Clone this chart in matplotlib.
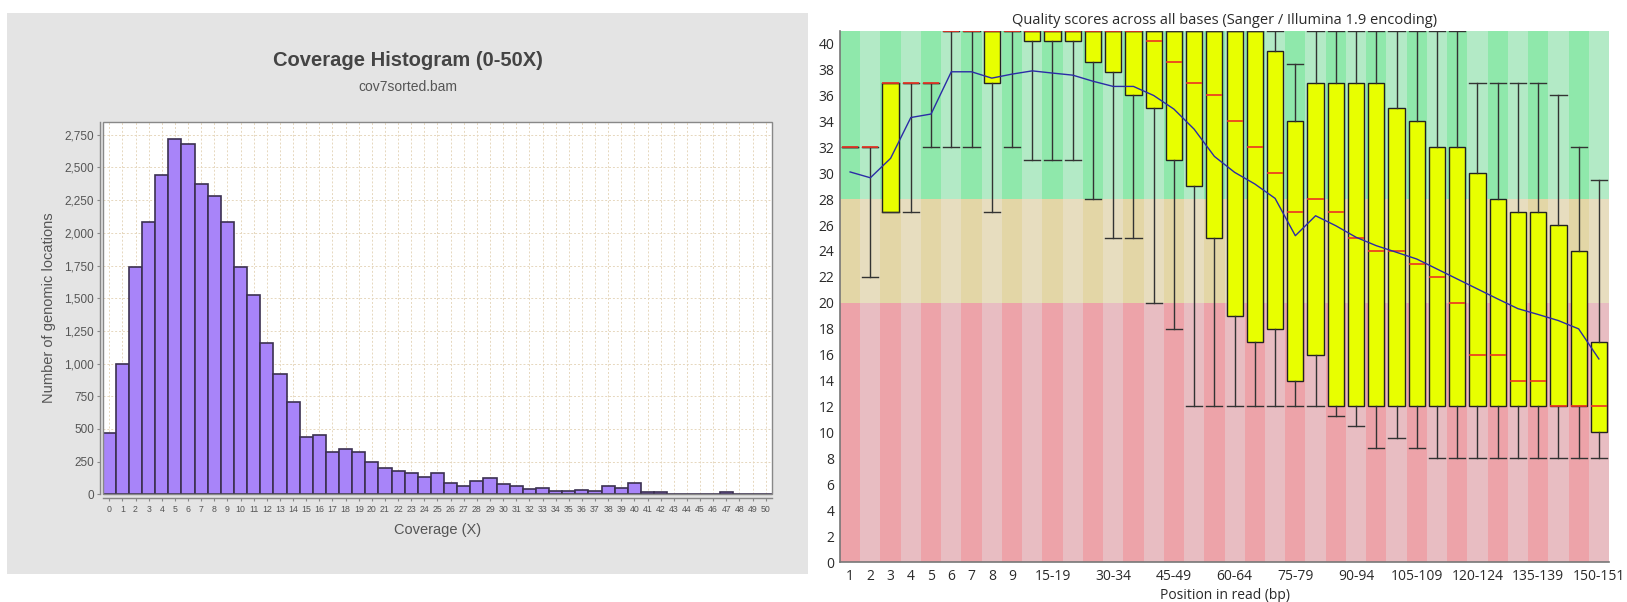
import matplotlib.pyplot as plt
from matplotlib import font_manager
from matplotlib.patches import Rectangle

# --- coverage histogram (0-50X) ---
coverage = list(range(51))
locations = [470, 1000, 1735, 2085, 2445, 2715, 2680, 2375, 2280, 2085,
             1735, 1525, 1155, 920, 705, 440, 450, 320, 345, 320,
             245, 200, 175, 165, 130, 165, 85, 65, 100, 125,
             75, 65, 40, 50, 25, 25, 35, 25, 65, 45,
             85, 15, 15, 5, 5, 5, 5, 15, 0, 0, 0]
cov_yticks = list(range(0, 2751, 250))

# --- per base sequence quality ---
positions = ['1', '2', '3', '4', '5', '6', '7', '8', '9',
             '10-14', '15-19', '20-24', '25-29', '30-34', '35-39', '40-44',
             '45-49', '50-54', '55-59', '60-64', '65-69', '70-74', '75-79',
             '80-84', '85-89', '90-94', '95-99', '100-104', '105-109',
             '110-114', '115-119', '120-124', '125-129', '130-134',
             '135-139', '140-144', '145-149', '150-151']
p10 = [32, 22, 27, 27, 32, 32, 32, 27, 32, 31, 31, 31, 28, 25, 25, 20, 18, 12, 12,
       12, 12, 12, 12, 12, 11.3, 10.5, 8.8, 9.6, 8.8, 8, 8, 8, 8, 8, 8, 8, 8, 8]
q1 = [32, 32, 27, 37, 37, 41, 41, 37, 41, 40.2, 40.2, 40.2, 38.6, 37.8, 36, 35, 31, 29, 25,
      19, 17, 18, 14, 16, 12, 12, 12, 12, 12, 12, 12, 12, 12, 12, 12, 12, 12, 10]
median = [32, 32, 37, 37, 37, 41, 41, 41, 41, 41, 41, 41, 41, 41, 41, 40.2, 38.6, 37, 36,
          34, 32, 30, 27, 28, 27, 25, 24, 24, 23, 22, 20, 16, 16, 14, 14, 12, 12, 12]
q3 = [32, 32, 37, 37, 37, 41, 41, 41, 41, 41, 41, 41, 41, 41, 41, 41, 41, 41, 41,
      41, 41, 39.4, 34, 37, 37, 37, 37, 35, 34, 32, 32, 30, 28, 27, 27, 26, 24, 17]
p90 = [32, 32, 37, 37, 37, 41, 41, 41, 41, 41, 41, 41, 41, 41, 41, 41, 41, 41, 41,
       41, 41, 41, 38.4, 41, 41, 41, 41, 41, 41, 41, 41, 37, 37, 37, 37, 36, 32, 29.5]
mean_q = [30.1, 29.65, 31.15, 34.3, 34.57, 37.83, 37.83, 37.34, 37.65, 37.9, 37.73,
          37.57, 37.1, 36.7, 36.7, 36.0, 34.95, 33.4, 31.3, 30.07, 29.17, 28.06,
          25.18, 26.72, 25.95, 25.06, 24.41, 23.9, 23.38, 22.61, 21.84, 21.07,
          20.3, 19.55, 19.1, 18.63, 17.99, 15.67]
shown_positions = ['1', '2', '3', '4', '5', '6', '7', '8', '9', '15-19', '30-34',
                   '45-49', '60-64', '75-79', '90-94', '105-109', '120-124',
                   '135-139', '150-151']
zones = [(0, 20, '#eda3a9', '#e8bdc2'),
         (20, 28, '#e3d6a6', '#e7ddbf'),
         (28, 41, '#8fe8ab', '#b3eac6')]

W, H = 1627, 602
fig = plt.figure(figsize=(W / 100, H / 100), dpi=100)
fig.patch.set_facecolor('white')

installed = {f.name for f in font_manager.fontManager.ttflist}
narrow = 'Liberation Sans Narrow' if 'Liberation Sans Narrow' in installed else 'Liberation Sans'


def box(l, t, r, b):
    return [l / W, 1 - b / H, (r - l) / W, (b - t) / H]


# grey chart panel behind the histogram
fig.patches.append(Rectangle((7 / W, 1 - 574 / H), 801 / W, 561 / H,
                             transform=fig.transFigure, facecolor='#e4e4e4',
                             edgecolor='none', zorder=-1))

ax1 = fig.add_axes(box(102.7, 121.7, 772.3, 494.3))
ax1.set_zorder(2)
ax1.set_facecolor('white')
ax1.bar(coverage, locations, width=1.0, color='#a884f9', edgecolor='#3b3050',
        linewidth=1.2, zorder=3)
ax1.set_xlim(-0.5, 50.5)
ax1.set_ylim(0, 2850)
ax1.set_xticks(coverage)
ax1.set_xticklabels([str(c) for c in coverage])
ax1.set_yticks(cov_yticks)
ax1.set_yticklabels([f'{v:,}' for v in cov_yticks])
ax1.tick_params(axis='both', length=2, width=0.8, color='#888888', labelcolor='#555555')
ax1.tick_params(axis='x', pad=3, labelsize=6.3, labelfontfamily=narrow)
ax1.tick_params(axis='y', pad=2, labelsize=8.5, labelfontfamily='Liberation Sans')
ax1.grid(True, color='#e6d7bd', linestyle=(0, (2, 2)), linewidth=0.7, zorder=0)
ax1.set_axisbelow(True)
for side in ['top', 'right']:
    ax1.spines[side].set_visible(False)
ax1.spines['left'].set_position(('outward', 2.2))
ax1.spines['bottom'].set_position(('outward', 3))
for side in ['left', 'bottom']:
    ax1.spines[side].set_color('#888888')
    ax1.spines[side].set_linewidth(1.0)
ax1.add_patch(Rectangle((0, 0), 1, 1, transform=ax1.transAxes, fill=False,
                        edgecolor='#888888', linewidth=1.0, clip_on=False, zorder=5))
ax1.set_xlabel('Coverage (X)', fontsize=10.5, family=narrow, color='#555555', labelpad=6)
ax1.set_ylabel('Number of genomic locations', fontsize=10.5, family=narrow,
               color='#555555', labelpad=6)
fig.text(407.5 / W, 1 - 61 / H, 'Coverage Histogram (0-50X)', ha='center', va='center',
         fontsize=14.5, fontweight='bold', family=narrow, color='#444444')
fig.text(407.5 / W, 1 - 87 / H, 'cov7sorted.bam', ha='center', va='center',
         fontsize=10, family=narrow, color='#555555')

# quality box plot
ax2 = fig.add_axes(box(840, 30.7, 1609, 562))
ax2.set_zorder(2)
x = list(range(len(positions)))
for lo, hi, dark, light in zones:
    ax2.bar(x, hi - lo, bottom=lo, width=1.0,
            color=[dark if i % 2 == 0 else light for i in x], linewidth=0, zorder=0)

stats = [dict(whislo=a, q1=b, med=c, q3=d, whishi=e, fliers=[])
         for a, b, c, d, e in zip(p10, q1, median, q3, p90)]
ax2.bxp(stats, positions=x, widths=0.8, capwidths=0.8, patch_artist=True,
        showfliers=False, manage_ticks=False,
        boxprops=dict(facecolor='#e8ff00', edgecolor='#222222', linewidth=1.0),
        whiskerprops=dict(color='#333333', linewidth=1.0),
        capprops=dict(color='#333333', linewidth=1.0),
        medianprops=dict(color='#ee3322', linewidth=1.2, zorder=4))
ax2.plot(x, mean_q, color='#2b2ba6', linewidth=1.0, zorder=5)

ax2.set_xlim(-0.5, len(positions) - 0.5)
ax2.set_ylim(0, 41)
ax2.set_yticks(range(0, 41, 2))
ax2.set_xticks([positions.index(p) for p in shown_positions])
ax2.set_xticklabels(shown_positions)
ax2.tick_params(axis='both', length=0, labelsize=10, labelcolor='#2a2a2a',
                labelfontfamily='Open Sans')
ax2.tick_params(axis='x', pad=5)
ax2.tick_params(axis='y', pad=4)
for side in ['top', 'right']:
    ax2.spines[side].set_visible(False)
for side in ['left', 'bottom']:
    ax2.spines[side].set_color('#777777')
    ax2.spines[side].set_linewidth(1.2)
ax2.set_xlabel('Position in read (bp)', fontsize=10, family='Open Sans',
               color='#2a2a2a', labelpad=3)
ax2.set_title('Quality scores across all bases (Sanger / Illumina 1.9 encoding)',
              fontsize=10.5, family='Open Sans', color='#2a2a2a', pad=5)

fig.savefig('out.png', dpi=100)
